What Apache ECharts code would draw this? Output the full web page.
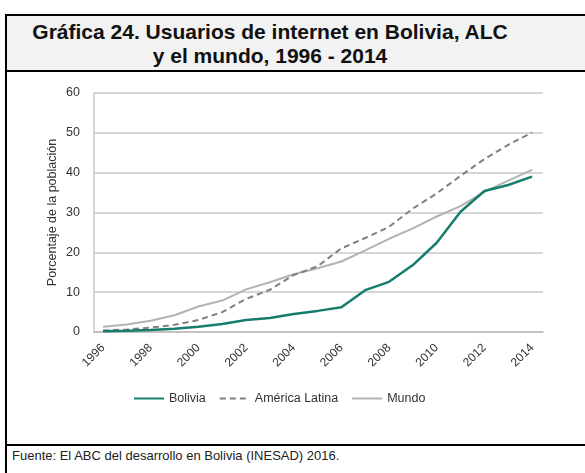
<!DOCTYPE html>
<html>
<head>
<meta charset="utf-8">
<script src="https://cdn.jsdelivr.net/npm/echarts@6/dist/echarts.min.js"></script>
<style>
  html, body { margin: 0; padding: 0; background: #fff; }
  #wrap { position: relative; width: 585px; height: 473px; overflow: hidden; font-family: "Liberation Sans", Arial, sans-serif; }
  #frame { position: absolute; left: 5px; top: 14px; width: 600px; height: 480px; border-left: 2px solid #000; border-top: 2px solid #000; }
  #titlebox { position: absolute; left: 7px; top: 16px; width: 600px; height: 54px; background: #f2f2f2; border-bottom: 2px solid #000; }
  #title { position: absolute; left: 10px; top: 20px; width: 520px; text-align: center; font-weight: bold; font-size: 21px; line-height: 24px; color: #111; }
  #foot { position: absolute; left: 7px; top: 444px; width: 600px; border-top: 2px solid #000; }
  #source { position: absolute; left: 12px; top: 448px; font-size: 13px; color: #222; }
  #main { position: absolute; left: 0; top: 0; width: 585px; height: 473px; }
</style>
</head>
<body>
<div id="wrap">
  <div id="frame"></div>
  <div id="titlebox"></div>
  <div id="title">Gráfica 24. Usuarios de internet en Bolivia, ALC<br>y el mundo, 1996 - 2014</div>
  <div id="foot"></div>
  <div id="source">Fuente: El ABC del desarrollo en Bolivia (INESAD) 2016.</div>
  <div id="main"></div>
</div>
<script>
var years=[1996,1997,1998,1999,2000,2001,2002,2003,2004,2005,2006,2007,2008,2009,2010,2011,2012,2013,2014];
var yearLabels=[1996,1998,2000,2002,2004,2006,2008,2010,2012,2014];
var bolivia=[0.2,0.3,0.5,0.8,1.3,2.0,3.0,3.5,4.5,5.3,6.2,10.5,12.6,16.8,22.4,30.2,35.4,36.9,39.0];
var americaLatina=[0.4,0.6,1.1,1.8,3.0,5.0,8.3,10.6,14.3,16.5,21.0,23.6,26.4,31.0,34.8,39.2,43.4,47.0,50.1];
var mundo=[1.3,1.9,2.8,4.2,6.4,7.9,10.7,12.5,14.5,16.0,17.7,20.5,23.4,26.0,29.0,31.6,35.2,38.0,40.7];

function pairs(vals){
    var out=[];
    for(var i=0;i<years.length;i++){
        out.push([years[i],vals[i]]);
    }
    return out;
}

var chartDom=document.getElementById('main');
var myChart=echarts.init(chartDom);
var font='"Liberation Sans", Arial, sans-serif';

var option={
    animation:false,
    grid:{left:94,right:42,top:93,bottom:141},
    legend:{
        left:128,
        top:387,
        itemWidth:30,
        itemHeight:14,
        itemGap:13,
        itemStyle:{opacity:0},
        textStyle:{fontFamily:font,fontSize:12.5,color:'#333'},
        data:['Bolivia','América Latina','Mundo']
    },
    xAxis:{
        type:'value',
        min:1995.62,
        max:2014.46,
        splitLine:{show:false},
        axisLine:{lineStyle:{color:'#bdbdbd',width:1.5}},
        axisTick:{show:false},
        axisLabel:{
            customValues:yearLabels,
            formatter:function(v){ return String(v); },
            rotate:45,
            margin:14,
            fontFamily:font,
            fontSize:12,
            color:'#333'
        }
    },
    yAxis:{
        type:'value',
        min:0,
        max:60,
        interval:10,
        name:'Porcentaje de la población',
        nameLocation:'middle',
        nameGap:35,
        nameMoveOverlap:false,
        nameTextStyle:{fontFamily:font,fontSize:12.5,color:'#333'},
        axisLine:{show:true,lineStyle:{color:'#c8c8c8',width:1.5}},
        axisTick:{show:false},
        axisLabel:{margin:14,fontFamily:font,fontSize:12.5,color:'#333'},
        splitLine:{lineStyle:{color:'#c8c8c8',width:1.5}}
    },
    series:[
        {
            name:'Bolivia',
            type:'line',
            symbol:'none',
            lineStyle:{color:'#177d6e',width:2.5},
            itemStyle:{color:'#177d6e'},
            z:4,
            data:pairs(bolivia)
        },
        {
            name:'América Latina',
            type:'line',
            symbol:'none',
            lineStyle:{color:'#808080',width:2,type:[6,4]},
            itemStyle:{color:'#808080'},
            z:3,
            data:pairs(americaLatina)
        },
        {
            name:'Mundo',
            type:'line',
            symbol:'none',
            lineStyle:{color:'#b3b3b3',width:2},
            itemStyle:{color:'#b3b3b3'},
            z:2,
            data:pairs(mundo)
        }
    ]
};

option && myChart.setOption(option);
</script>
</body>
</html>
